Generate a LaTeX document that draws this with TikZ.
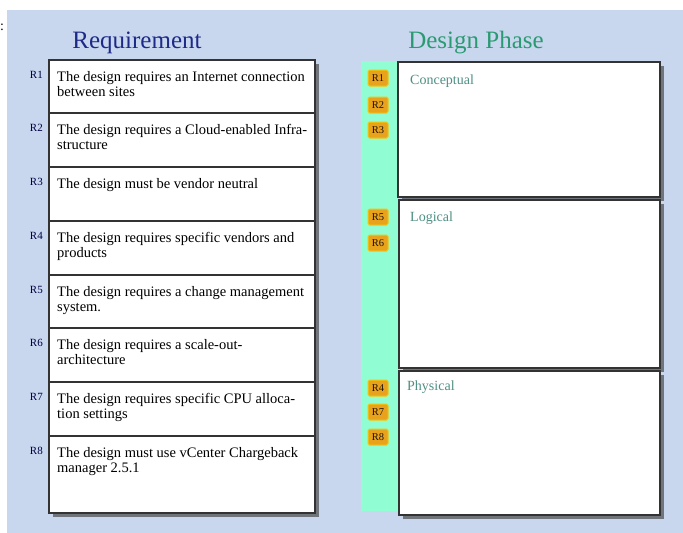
\documentclass[tikz,border=0pt]{standalone}
\usepackage{fontspec}
\setmainfont{Liberation Serif}
\usetikzlibrary{shadows}
\definecolor{bgblue}{HTML}{C8D7EE}
\definecolor{stripgreen}{HTML}{90FDD2}
\definecolor{titleblue}{HTML}{1E2A88}
\definecolor{titlegreen}{HTML}{2A9A72}
\definecolor{phasetext}{HTML}{4F8F84}
\definecolor{tagorange}{HTML}{E9A21C}
\colorlet{fg}{black!80}
\tikzset{
	boxshadow/.style={drop shadow={shadow xshift=4pt,shadow yshift=-4pt,fill=black!70,opacity=.7}},
	reqtext/.style={anchor=north west,inner sep=0pt,align=left,font=\fontsize{14.5}{15.5}\selectfont},
	reqlabel/.style={anchor=east,inner sep=0pt,text=black!75!blue,font=\fontsize{11}{12}\selectfont},
	phaselabel/.style={anchor=north west,inner sep=0pt,text=phasetext,font=\fontsize{14}{15}\selectfont},
	tagbox/.style={fill=tagorange,rounded corners=1.5pt,minimum width=20pt,minimum height=16pt,inner sep=0pt,
		draw=tagorange!60!yellow,line width=1pt,text=black!85!brown,font=\fontsize{10.5}{11}\selectfont}
}

\begin{document}
\begin{tikzpicture}[x=1pt,y=-1pt]
	\useasboundingbox (0,0) rectangle (683,533);
	\fill[bgblue] (7,10) rectangle (683,533);
	\node[anchor=north west,inner sep=0pt,font=\fontsize{14}{14}\selectfont] (colon) at (0,24) {:};

	% titles
	\node[text=titleblue,font=\fontsize{25}{27}\selectfont] (reqtitle) at (137,43) {Requirement};
	\node[text=titlegreen,font=\fontsize{25}{27}\selectfont] (phasetitle) at (476,43) {Design Phase};

	% requirement column
	\fill[white,boxshadow] (49,60) rectangle (315,513);
	\foreach \top/\bot/\name/\txt in {
		60/113/R1/{The design requires an Internet connection\\between sites},
		113/167/R2/{The design requires a Cloud-enabled Infra-\\structure},
		167/221/R3/{The design must be vendor neutral},
		221/275/R4/{The design requires specific vendors and\\products},
		275/328/R5/{The design requires a change management\\system.},
		328/382/R6/{The design requires a scale-out-\\architecture},
		382/436/R7/{The design requires specific CPU alloca-\\tion settings},
		436/513/R8/{The design must use vCenter Chargeback\\manager 2.5.1}}
	{
		\draw[fg,line width=1.3pt] (49,\top) rectangle (315,\bot);
		\node[reqlabel] (lab\name) at (43,\top+15) {\name};
		\node[reqtext] (req\name) at (57,\top+11) {\txt};
	}

	% design phase column
	\fill[stripgreen] (361,61) rectangle (398,511);
	\fill[white,boxshadow] (398,62) rectangle (660,197);
	\fill[white,boxshadow] (399,200) rectangle (660,368);
	\fill[white,boxshadow] (399,371) rectangle (660,515);
	\draw[fg,line width=1.3pt] (398,62) rectangle (660,197);
	\draw[fg,line width=1.3pt] (399,200) rectangle (660,368);
	\draw[fg,line width=1.3pt] (399,371) rectangle (660,515);
	\node[phaselabel] (conceptual) at (410,75) {Conceptual};
	\node[phaselabel] (logical) at (410,212) {Logical};
	\node[phaselabel] (physical) at (407,381) {Physical};

	% tags
	\foreach \name/\y in {R1/78,R2/105,R3/130,R5/217,R6/243,R4/388,R7/412,R8/437}
		\node[tagbox] (tag\name) at (378,\y) {\name};
\end{tikzpicture}
\end{document}
